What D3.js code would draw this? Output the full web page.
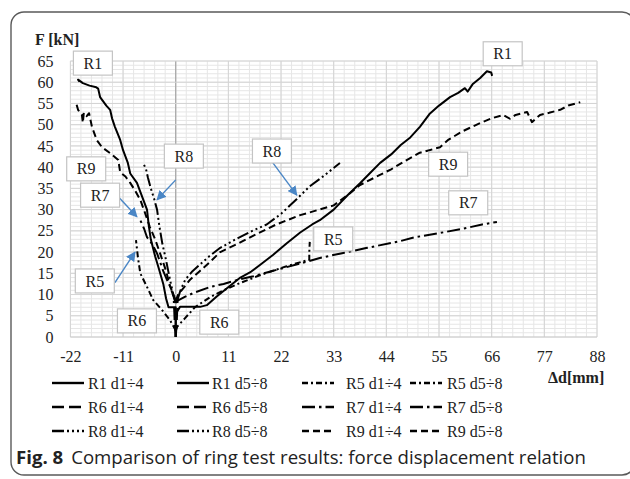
<!DOCTYPE html>
<html><head><meta charset="utf-8">
<script src="https://cdn.jsdelivr.net/npm/d3@7"></script>
<style>html,body{margin:0;padding:0;background:#fff;}svg{display:block;}</style>
</head><body>
<script>
// ---------- data ----------
const xTicks = [-22,-11,0,11,22,33,44,55,66,77,88];
const yTicks = [0,5,10,15,20,25,30,35,40,45,50,55,60,65];
const xLabel = "Δd[mm]";
const yLabel = "F [kN]";
const caption = ["Fig. 8", "Comparison of ring test results: force displacement relation"];

const R1_d1_4 = [[0,0],[0,7],[-1.5,7],[-2,9],[-2.6,12.5],[-3.5,16],[-4.3,19],[-5.2,23],[-5.6,26],[-6,30],[-7,33],[-8.1,36.3],[-9.5,38.5],[-10,41],[-11,44],[-11.6,46.4],[-12.7,49.5],[-13.3,51.5],[-13.7,53.5],[-14.5,54.5],[-15.8,56.5],[-16.2,58.5],[-16.6,58.8],[-18,59.2],[-19.4,59.8],[-20.4,60.6],[-20.1,60.1]];
const R1_d5_8 = [[0,0],[0,5.5],[0.9,7.1],[5.1,7.1],[6.5,7.5],[8.5,9.5],[10.7,11.5],[13.5,14],[15.5,15.2],[18,17.3],[20.3,19.3],[23.2,22.1],[26,24.6],[28.5,26.5],[30.1,27.5],[33,30],[36,33.5],[38.5,36.2],[40.5,38.5],[42.7,41],[45,43],[47,45.2],[49,47],[51,49.5],[53,52.5],[55,54.5],[57.3,56.5],[59,57.5],[60.4,58.6],[61,57.8],[62,59.5],[63.6,61],[65,62.6],[65.9,62.3],[66.1,61.5]];
const R5_d1_4 = [[0,1.5],[-1.2,4],[-2.9,6.4],[-4.7,8.7],[-6,11.8],[-7.4,15],[-7.9,18.8],[-8.3,22.8]];
const R5_d5_8 = [[0,1.5],[0.3,2.4],[2,4.5],[4,7],[7.2,9.4],[10,11],[13,12.5],[17,14.3],[20,15.5],[23,16.6],[26.6,17.8],[27.9,18.2],[27.9,20],[28,22.4]];
const R6_d1_4 = [[0,0],[-0.2,3],[-0.3,6],[-0.4,8.5]];
const R6_d5_8 = [[0,0],[0.2,3],[0.3,6],[0.4,9]];
const R7_d1_4 = [[0,8],[-0.6,10],[-1.2,12],[-1.8,13.4],[-2.6,15.5],[-3.9,19.7],[-5,22],[-6,23.5],[-6.6,25.5],[-7.4,27.5]];
const R7_d5_8 = [[0,8],[0.3,8.5],[2,9.5],[4,10.5],[7.2,11.8],[10,12.5],[13,13.5],[16.2,14.3],[20,15.5],[25,17],[30.1,18.6],[35,19.8],[40,21],[46.6,22.5],[50,23.5],[55.2,24.5],[60,25.5],[64,26.5],[67.1,27.1]];
const R8_d1_4 = [[0,8],[-0.5,10],[-1.2,13.5],[-2,18],[-2.8,22],[-3.4,26],[-3.9,30],[-4.5,32.5],[-5.2,35],[-5.8,37.5],[-6.2,39.5],[-6.8,41]];
const R8_d5_8 = [[0.3,8.5],[1,11],[2,13.5],[3.5,15.5],[5,17],[7,19],[9.3,21],[13,23.3],[16,25],[19,26.5],[22,29],[25.3,32.5],[28,35.5],[31,38],[34.3,41]];
const R9_d1_4 = [[0,8.5],[-0.5,10],[-1.2,12],[-2,15.5],[-3.3,19.8],[-4.3,23],[-5.4,25.9],[-6.5,29.5],[-7.4,32.3],[-8.5,34.5],[-9.5,36.3],[-10.5,37.8],[-11.6,38.8],[-12,41.7],[-13.7,43.3],[-15.4,44.7],[-16.5,46.4],[-17.5,49.5],[-18.1,52.7],[-18.6,52],[-19.2,52.8],[-19.4,50.5],[-19.6,52.3],[-20.4,53.5],[-20.8,55.1]];
const R9_d5_8 = [[0,8.5],[0.5,10],[1.6,11.5],[3,13.5],[5,15.5],[7,17.5],[9.3,20],[13,22],[17,24.3],[21,26.5],[26,28.7],[30,30],[33,31],[36,33.5],[38.5,35.8],[42,37.8],[45,39.5],[48,41.5],[51,43.4],[53,44],[55.2,44.7],[57,46.5],[60,48.5],[63.6,50.4],[66,51.5],[68.4,52.3],[69.8,51.4],[71,52.3],[73.4,53],[74.4,50.6],[76.1,52.3],[78,52.8],[80.3,53.5],[82,54.5],[84.5,55.3]];

const seriesNames = ["R1 d1÷4","R1 d5÷8","R5 d1÷4","R5 d5÷8","R6 d1÷4","R6 d5÷8","R7 d1÷4","R7 d5÷8","R8 d1÷4","R8 d5÷8","R9 d1÷4","R9 d5÷8"];
const seriesValues = [R1_d1_4,R1_d5_8,R5_d1_4,R5_d5_8,R6_d1_4,R6_d5_8,R7_d1_4,R7_d5_8,R8_d1_4,R8_d5_8,R9_d1_4,R9_d5_8];
const seriesSpecimen = ["R1","R1","R5","R5","R6","R6","R7","R7","R8","R8","R9","R9"];

// annotations (text, box centre in data units, optional arrow start/tip in data units)
const annoText = ["R1","R1","R9","R8","R7","R5","R6","R6","R8","R5","R9","R7"];
const annoPos  = [[-17.3,64.5],[68.3,66.7],[-18.7,39.6],[1.7,42.6],[-15.8,33.4],[-16.9,13.2],[-8.1,3.8],[9.1,3.5],[20.1,43.8],[32.9,23.1],[56.9,40.7],[61.1,31.6]];
const annoArrow = [null,null,null,[[0,37],[-3.9,32.3]],[[-11.8,32.8],[-8.1,28.3]],[[-12.7,12.8],[-8.5,20]],null,null,[[20.3,41],[25.3,33.4]],null,null,null];

// ---------- styles ----------
const dashBy = {R1:null, R5:"6,3,2,3", R6:"12,5", R7:"13,4,2.5,4", R8:"12,3,2,3,2,3,2,3", R9:"7,4"};

const W = 630, H = 479;
const svg = d3.select("body").append("svg").attr("width", W).attr("height", H);

// frame
svg.append("rect").attr("x",11).attr("y",12).attr("width",624).attr("height",463)
  .attr("rx",13).attr("fill","none").attr("stroke","#5a5a5a").attr("stroke-width",1.4);

const x = d3.scaleLinear().domain([-22,88]).range([70.4,597]);
const y = d3.scaleLinear().domain([0,65]).range([337,61]);

// grid
const g = svg.append("g");
const minorX = d3.range(0,51).map(i => -22 + i*2.2);
const minorY = d3.range(0,66);
g.selectAll(".mx").data(minorX).enter().append("line")
  .attr("x1",d=>x(d)).attr("x2",d=>x(d)).attr("y1",y(0)).attr("y2",y(65))
  .attr("stroke","#e6e6e6").attr("stroke-width",1);
g.selectAll(".my").data(minorY).enter().append("line")
  .attr("x1",x(-22)).attr("x2",x(88)).attr("y1",d=>y(d)).attr("y2",d=>y(d))
  .attr("stroke","#e6e6e6").attr("stroke-width",1);
g.selectAll(".Mx").data(xTicks).enter().append("line")
  .attr("x1",d=>x(d)).attr("x2",d=>x(d)).attr("y1",y(0)).attr("y2",y(65))
  .attr("stroke",d=>d===0?"#a8a8a8":"#d4d4d4").attr("stroke-width",d=>d===0?1.3:1);
g.selectAll(".My").data(yTicks).enter().append("line")
  .attr("x1",x(-22)).attr("x2",x(88)).attr("y1",d=>y(d)).attr("y2",d=>y(d))
  .attr("stroke",d=>d===0?"#c8c8c8":"#d4d4d4").attr("stroke-width",1);

// axes labels via d3 axes
const serif = "'Liberation Serif', 'DejaVu Serif', serif";
const xa = svg.append("g").attr("transform",`translate(0,${y(0)})`)
  .call(d3.axisBottom(x).tickValues(xTicks).tickSize(0).tickPadding(14).tickFormat(d=>String(d)));
xa.select(".domain").remove();
xa.selectAll("text").attr("font-family",serif).attr("font-size",16).attr("fill","#222");
const ya = svg.append("g").attr("transform",`translate(${x(-22)},0)`)
  .call(d3.axisLeft(y).tickValues(yTicks).tickSize(0).tickPadding(17).tickFormat(d=>String(d)));
ya.select(".domain").remove();
ya.selectAll("text").attr("font-family",serif).attr("font-size",16).attr("fill","#222");

svg.append("text").attr("x",35).attr("y",45).text(yLabel)
  .attr("font-family",serif).attr("font-size",16).attr("font-weight","bold").attr("fill","#222");
svg.append("text").attr("x",548).attr("y",383).text(xLabel)
  .attr("font-family",serif).attr("font-size",16).attr("font-weight","bold").attr("fill","#222");

// curves
const line = d3.line().defined(d=>d!=null).x(d=>x(d[0])).y(d=>y(d[1]));
const cg = svg.append("g");
seriesValues.forEach((vals,i)=>{
  cg.append("path").attr("d",line(vals)).attr("fill","none").attr("stroke","#000")
    .attr("stroke-width",2).attr("stroke-linejoin","round")
    .attr("stroke-dasharray",dashBy[seriesSpecimen[i]]);
});

// annotations
svg.append("defs").append("marker").attr("id","ah").attr("viewBox","0 0 10 10")
  .attr("refX",9).attr("refY",5).attr("markerWidth",7).attr("markerHeight",7).attr("orient","auto")
  .append("path").attr("d","M0,0L10,5L0,10z").attr("fill","#4a86c5");
const ag = svg.append("g");
annoText.forEach((t,i)=>{
  const a = annoArrow[i];
  if(a){
    ag.append("line").attr("x1",x(a[0][0])).attr("y1",y(a[0][1])).attr("x2",x(a[1][0])).attr("y2",y(a[1][1]))
      .attr("stroke","#4a86c5").attr("stroke-width",1.4).attr("marker-end","url(#ah)");
  }
});
annoText.forEach((t,i)=>{
  const cx = x(annoPos[i][0]), cy = y(annoPos[i][1]);
  ag.append("rect").attr("x",cx-19.5).attr("y",cy-12).attr("width",39).attr("height",24)
    .attr("fill","#fff").attr("stroke","#c4c4c4").attr("stroke-width",1.2);
  ag.append("text").attr("x",cx).attr("y",cy).attr("dy","0.35em").attr("text-anchor","middle")
    .attr("font-family",serif).attr("font-size",16).attr("fill","#222").text(t);
});

// legend
const colLineX = [52,177,302,410];
const colTextX = [88,212,346,447];
const rowY = [383,407,431];
const lg = svg.append("g");
seriesNames.forEach((n,i)=>{
  const r = Math.floor(i/4), c = i%4;
  lg.append("line").attr("x1",colLineX[c]).attr("x2",colLineX[c]+32).attr("y1",rowY[r]).attr("y2",rowY[r])
    .attr("stroke","#000").attr("stroke-width",2.4).attr("stroke-dasharray",dashBy[seriesSpecimen[i]]);
  lg.append("text").attr("x",colTextX[c]).attr("y",rowY[r]).attr("dy","0.35em")
    .attr("font-family",serif).attr("font-size",16).attr("fill","#222").text(n);
});

// caption
const sans = "'Open Sans', 'Noto Sans', sans-serif";
const cap = svg.append("text").attr("x",16).attr("y",464).attr("font-family",sans).attr("font-size",17).attr("fill","#222");
cap.append("tspan").attr("font-weight","bold").text(caption[0]);
cap.append("tspan").attr("dx",8).text(caption[1]);
const len = cap.node().getComputedTextLength() + 8;
const fs = 17 * 571 / len;
cap.attr("font-size", fs);
</script>
</body></html>
